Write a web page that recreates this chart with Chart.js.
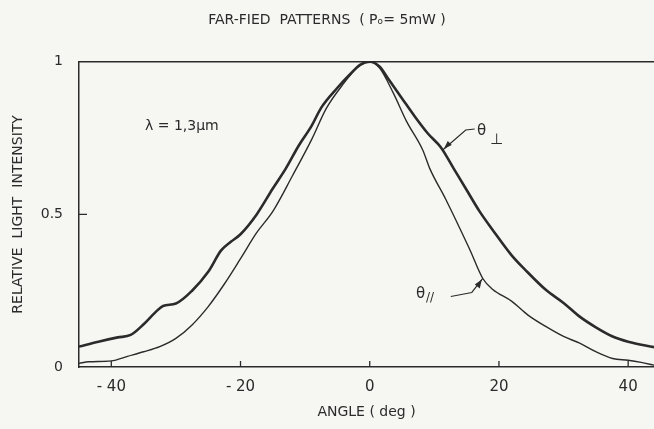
<!DOCTYPE html>
<html>
<head>
<meta charset="utf-8">
<script src="https://cdn.jsdelivr.net/npm/chart.js@4.4.1/dist/chart.umd.min.js"></script>
<style>
  html, body { margin: 0; padding: 0; background: #f6f6f3; }
  #wrap { width: 654px; height: 429px; }
</style>
</head>
<body>
<div id="wrap"><canvas id="farfield" width="654" height="429"></canvas></div>
<script>
// angle (deg) / relative intensity
const perpAngle = [-45, -42, -39, -37, -35, -33, -32, -30, -27.5, -25, -23, -21.5, -20, -17.5, -15, -13, -11, -9, -7.5, -5, -3, -1.5, 0,
  1.5, 3, 5, 7, 9, 11, 13, 15, 17, 19, 22, 24, 27.3, 30, 32.5, 35, 37.6, 40, 44];
const perpValue = [0.067, 0.083, 0.097, 0.105, 0.14, 0.183, 0.2, 0.208, 0.25, 0.312, 0.382, 0.41, 0.435, 0.5, 0.585, 0.65, 0.725, 0.79, 0.85, 0.915, 0.96, 0.99, 1.0,
  0.985, 0.94, 0.88, 0.82, 0.765, 0.72, 0.65, 0.58, 0.51, 0.45, 0.365, 0.32, 0.252, 0.21, 0.165, 0.13, 0.1, 0.083, 0.065];

const parAngle = [-45, -43.5, -40, -37.5, -35, -32.5, -30, -27.5, -25, -22.5, -20, -17.5, -15, -12, -9, -6.7, -4, -2, 0,
  1.5, 3.6, 5.7, 8.2, 9.3, 11.8, 15.5, 17.5, 19, 22, 24.5, 27.3, 30, 32.5, 35, 37.6, 40, 42, 44];
const parValue = [0.012, 0.017, 0.02, 0.035, 0.05, 0.067, 0.094, 0.138, 0.198, 0.272, 0.355, 0.44, 0.51, 0.625, 0.745, 0.848, 0.93, 0.98, 1.0,
  0.98, 0.9, 0.805, 0.711, 0.65, 0.548, 0.384, 0.29, 0.255, 0.215, 0.17, 0.132, 0.1, 0.078, 0.05, 0.028, 0.022, 0.015, 0.006];

const xTicks = [-40, -20, 0, 20, 40];
const yTicks = [0, 0.5, 1];

const ink = '#2b2b2b';
const letterFont = '"DejaVu Sans", sans-serif';

function toPoints(xs, ys) {
  return xs.map((x, i) => ({ x: x, y: ys[i] }));
}

// inward ticks, leader lines and the lettering inside the frame
const decorations = {
  id: 'decorations',
  afterDatasetsDraw(chart) {
    const ctx = chart.ctx;
    const xs = chart.scales.x;
    const ys = chart.scales.y;
    const area = chart.chartArea;
    ctx.save();
    ctx.strokeStyle = ink;
    ctx.lineWidth = 1.3;
    ctx.beginPath();
    xTicks.forEach(v => {
      const px = xs.getPixelForValue(v);
      ctx.moveTo(px, area.bottom);
      ctx.lineTo(px, area.bottom - 6);
    });
    const py = ys.getPixelForValue(0.5);
    ctx.moveTo(area.left, py);
    ctx.lineTo(area.left + 8, py);
    ctx.stroke();

    // theta perpendicular leader
    let ax = xs.getPixelForValue(11.3), ay = ys.getPixelForValue(0.711);
    ctx.lineWidth = 1.2;
    ctx.beginPath();
    ctx.moveTo(ax, ay);
    ctx.lineTo(ax + 23, ay - 20);
    ctx.lineTo(ax + 32, ay - 21);
    ctx.stroke();
    ctx.beginPath();
    ctx.moveTo(ax + 1, ay - 1);
    ctx.lineTo(ax + 9, ay - 5);
    ctx.lineTo(ax + 5, ay - 9);
    ctx.closePath();
    ctx.fillStyle = ink;
    ctx.fill();

    // theta parallel leader
    ax = xs.getPixelForValue(17.5); ay = ys.getPixelForValue(0.29);
    ctx.beginPath();
    ctx.moveTo(ax, ay);
    ctx.lineTo(ax - 11, ay + 14);
    ctx.lineTo(ax - 32, ay + 18);
    ctx.stroke();
    ctx.beginPath();
    ctx.moveTo(ax - 1, ay + 1);
    ctx.lineTo(ax - 3, ay + 10);
    ctx.lineTo(ax - 8, ay + 6);
    ctx.closePath();
    ctx.fill();

    ctx.fillStyle = ink;
    ctx.textBaseline = 'middle';
    ctx.font = '15px ' + letterFont;
    ctx.fillText('\u03B8', 477, 131);
    ctx.font = '15px ' + letterFont;
    ctx.fillText('\u22A5', 490, 140);
    ctx.font = '15px ' + letterFont;
    ctx.fillText('\u03B8', 416, 294);
    ctx.font = '12px ' + letterFont;
    ctx.fillText('//', 426, 298);
    ctx.font = '14px ' + letterFont;
    ctx.fillText('\u03BB = 1,3\u03BCm', 145, 126);
    ctx.restore();
  }
};

new Chart(document.getElementById('farfield'), {
  type: 'line',
  data: {
    datasets: [
      {
        label: '\u03B8\u22A5',
        data: toPoints(perpAngle, perpValue),
        borderColor: ink,
        borderWidth: 2.6,
        pointRadius: 0,
        tension: 0.4,
        cubicInterpolationMode: 'monotone'
      },
      {
        label: '\u03B8//',
        data: toPoints(parAngle, parValue),
        borderColor: ink,
        borderWidth: 1.4,
        pointRadius: 0,
        tension: 0.4,
        cubicInterpolationMode: 'monotone'
      }
    ]
  },
  options: {
    responsive: false,
    animation: false,
    layout: { padding: { left: 0, right: 0, top: 0, bottom: 0 } },
    plugins: {
      legend: { display: false },
      tooltip: { enabled: false },
      title: {
        display: true,
        text: 'FAR-FIED  PATTERNS  ( P\u2092= 5mW )',
        color: ink,
        font: { family: letterFont, size: 14, weight: 'normal' },
        padding: { top: 12, bottom: 33 }
      }
    },
    scales: {
      x: {
        type: 'linear',
        min: -45,
        max: 44,
        afterBuildTicks: s => { s.ticks = xTicks.map(v => ({ value: v })); },
        afterFit: s => { s.height = 62; },
        grid: { display: false },
        border: { display: true, color: ink, width: 1.5 },
        ticks: {
          color: ink,
          padding: 3,
          font: { family: letterFont, size: 15 },
          callback: v => v < 0 ? '- ' + Math.abs(v) : String(v)
        },
        title: {
          display: true,
          text: 'ANGLE ( deg )',
          color: ink,
          font: { family: letterFont, size: 14 },
          padding: { top: 4, bottom: 8 }
        }
      },
      xTop: {
        type: 'linear',
        position: 'top',
        min: -45,
        max: 44,
        afterFit: s => { s.height = 0; },
        grid: { display: false },
        border: { display: true, color: ink, width: 1.5 },
        ticks: { display: false }
      },
      y: {
        type: 'linear',
        min: 0,
        max: 1,
        afterBuildTicks: s => { s.ticks = yTicks.map(v => ({ value: v })); },
        afterFit: s => { s.width = 79; },
        grid: { display: false },
        border: { display: true, color: ink, width: 1.5 },
        ticks: {
          color: ink,
          padding: 8,
          font: { family: letterFont, size: 14 },
          callback: v => String(v)
        },
        title: {
          display: true,
          text: 'RELATIVE  LIGHT  INTENSITY',
          color: ink,
          font: { family: letterFont, size: 14 },
          padding: { top: 10, bottom: 0 }
        }
      }
    }
  },
  plugins: [decorations]
});
</script>
</body>
</html>
